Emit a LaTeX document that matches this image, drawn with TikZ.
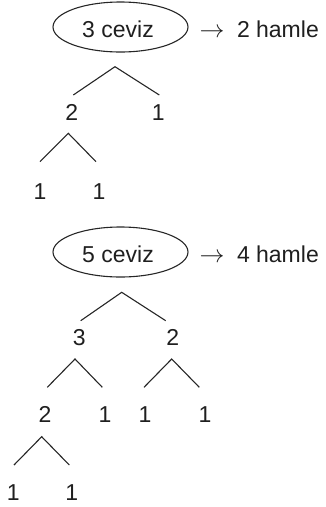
\documentclass[tikz,border=0pt]{standalone}
\usepackage{fontspec}
\setmainfont{Liberation Sans}
\usetikzlibrary{shapes.geometric}

\begin{document}
\begin{tikzpicture}[x=1pt,y=-1pt,
  every node/.style={inner sep=0pt, outer sep=0pt, text=black!88,
    font=\fontsize{23}{27}\selectfont},
  num/.style={anchor=base},
  arrowsign/.style={anchor=base, font=\fontsize{24}{28}\selectfont},
  oval/.style={draw=black!85, line width=1.1pt, ellipse,
    minimum width=135pt, minimum height=50pt},
  branch/.style={draw=black!85, line width=1.1pt, line join=miter}]

\useasboundingbox (0,0) rectangle (325,507);

% ---- first tree: 3 walnuts ----
\node[oval] (oval3) at (120.5,27) {};
\node[num] (lbl3) at (118,37) {3 ceviz};
\node[arrowsign] (arr3) at (212,37) {$\rightarrow$};
\node[anchor=base west] (mv3) at (237,37) {2 hamle};

\coordinate (p3top) at (115,66.7);
\coordinate (p3l) at (73.3,95);
\coordinate (p3r) at (159.3,95);
\draw[branch] (p3l) -- (p3top) -- (p3r);
\node[num] (a2) at (71.7,120.5) {2};
\node[num] (a1) at (158.3,120.5) {1};

\coordinate (p2top) at (68.3,133.3);
\coordinate (p2l) at (40,161.7);
\coordinate (p2r) at (96,161.7);
\draw[branch] (p2l) -- (p2top) -- (p2r);
\node[num] (a11) at (40,199) {1};
\node[num] (a12) at (99,199) {1};

% ---- second tree: 5 walnuts ----
\node[oval] (oval5) at (120.5,252) {};
\node[num] (lbl5) at (118,262) {5 ceviz};
\node[arrowsign] (arr5) at (212,262) {$\rightarrow$};
\node[anchor=base west] (mv5) at (237,262) {4 hamle};

\coordinate (q5top) at (121.7,292.3);
\coordinate (q5l) at (80.7,320.7);
\coordinate (q5r) at (165.7,320.7);
\draw[branch] (q5l) -- (q5top) -- (q5r);
\node[num] (b3) at (79.3,345.5) {3};
\node[num] (b2) at (172.7,345.5) {2};

\coordinate (q3top) at (75,359);
\coordinate (q3l) at (47.3,387.3);
\coordinate (q3r) at (102.3,387.3);
\draw[branch] (q3l) -- (q3top) -- (q3r);

\coordinate (q2top) at (171.7,359);
\coordinate (q2l) at (144,387.3);
\coordinate (q2r) at (199.3,387.3);
\draw[branch] (q2l) -- (q2top) -- (q2r);

\node[num] (c2) at (45,422.5) {2};
\node[num] (c1) at (105,422.5) {1};
\node[num] (d1) at (145,422.5) {1};
\node[num] (d2) at (205,422.5) {1};

\coordinate (r2top) at (41.7,436.7);
\coordinate (r2l) at (14,465);
\coordinate (r2r) at (69.3,465);
\draw[branch] (r2l) -- (r2top) -- (r2r);

\node[num] (e1) at (13.3,500.5) {1};
\node[num] (e2) at (71.7,500.5) {1};

\end{tikzpicture}
\end{document}
